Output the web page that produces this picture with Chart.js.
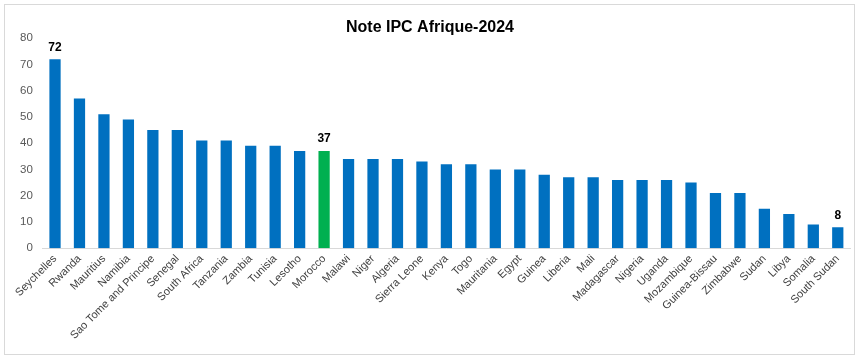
<!DOCTYPE html>
<html>
<head>
<meta charset="utf-8">
<script src="https://cdn.jsdelivr.net/npm/chart.js@4.4.1/dist/chart.umd.min.js"></script>
<style>
html,body{margin:0;padding:0;background:#fff;}
#wrap{position:absolute;left:4px;top:4px;width:851px;height:351px;border:1px solid #d9d9d9;box-sizing:border-box;}
canvas{display:block;}
</style>
</head>
<body>
<div id="wrap"><canvas id="c" width="851" height="351"></canvas></div>
<script>
const countries = ["Seychelles","Rwanda","Mauritius","Namibia","Sao Tome and Principe","Senegal","South Africa","Tanzania","Zambia","Tunisia","Lesotho","Morocco","Malawi","Niger","Algeria","Sierra Leone","Kenya","Togo","Mauritania","Egypt","Guinea","Liberia","Mali","Madagascar","Nigeria","Uganda","Mozambique","Guinea-Bissau","Zimbabwe","Sudan","Libya","Somalia","South Sudan"];
const scores = [72,57,51,49,45,45,41,41,39,39,37,37,34,34,34,33,32,32,30,30,28,27,27,26,26,26,25,21,21,15,13,9,8];
const labelledCountries = ["Seychelles","Morocco","South Sudan"];
const highlightCountry = "Morocco";
const yTicks = [0,10,20,30,40,50,60,70,80];

const colors = countries.map(c => c === highlightCountry ? "#00B050" : "#0070C0");

const labelPlugin = {
  id: "lbl",
  afterDatasetsDraw(chart) {
    const ctx = chart.ctx;
    const meta = chart.getDatasetMeta(0);
    ctx.save();
    ctx.font = "bold 12px 'Liberation Sans', Arial, sans-serif";
    ctx.fillStyle = "#000";
    ctx.textAlign = "center";
    ctx.textBaseline = "bottom";
    meta.data.forEach((el, i) => {
      if (labelledCountries.includes(countries[i])) {
        ctx.fillText(String(scores[i]), el.x, el.y - 6);
      }
    });
    ctx.restore();
  }
};

new Chart(document.getElementById("c"), {
  type: "bar",
  data: {
    labels: countries,
    datasets: [{ data: scores, backgroundColor: colors, categoryPercentage: 1, barPercentage: 0.46 }]
  },
  plugins: [labelPlugin],
  options: {
    responsive: false,
    animation: false,
    devicePixelRatio: 1,
    layout: { padding: { left: 5, right: 6, top: 0, bottom: 10 } },
    plugins: {
      legend: { display: false },
      tooltip: { enabled: false },
      title: {
        display: true,
        text: "Note IPC Afrique-2024",
        color: "#000",
        font: { family: "'Liberation Sans', Arial, sans-serif", size: 16, weight: "bold" },
        padding: { top: 13, bottom: 1 }
      }
    },
    scales: {
      y: {
        min: 0, max: 80,
        afterBuildTicks(axis) { axis.ticks = yTicks.map(v => ({ value: v })); },
        grid: { display: false, drawTicks: false },
        border: { display: false },
        ticks: { color: "#595959", padding: 10, font: { family: "'Liberation Sans', Arial, sans-serif", size: 11.5 } }
      },
      x: {
        grid: { display: false, drawTicks: false },
        border: { display: true, color: "#d9d9d9", width: 1 },
        ticks: { color: "#404040", minRotation: 45, maxRotation: 45, autoSkip: false, padding: 4, font: { family: "'Liberation Sans', Arial, sans-serif", size: 11 } }
      }
    }
  }
});
</script>
</body>
</html>
